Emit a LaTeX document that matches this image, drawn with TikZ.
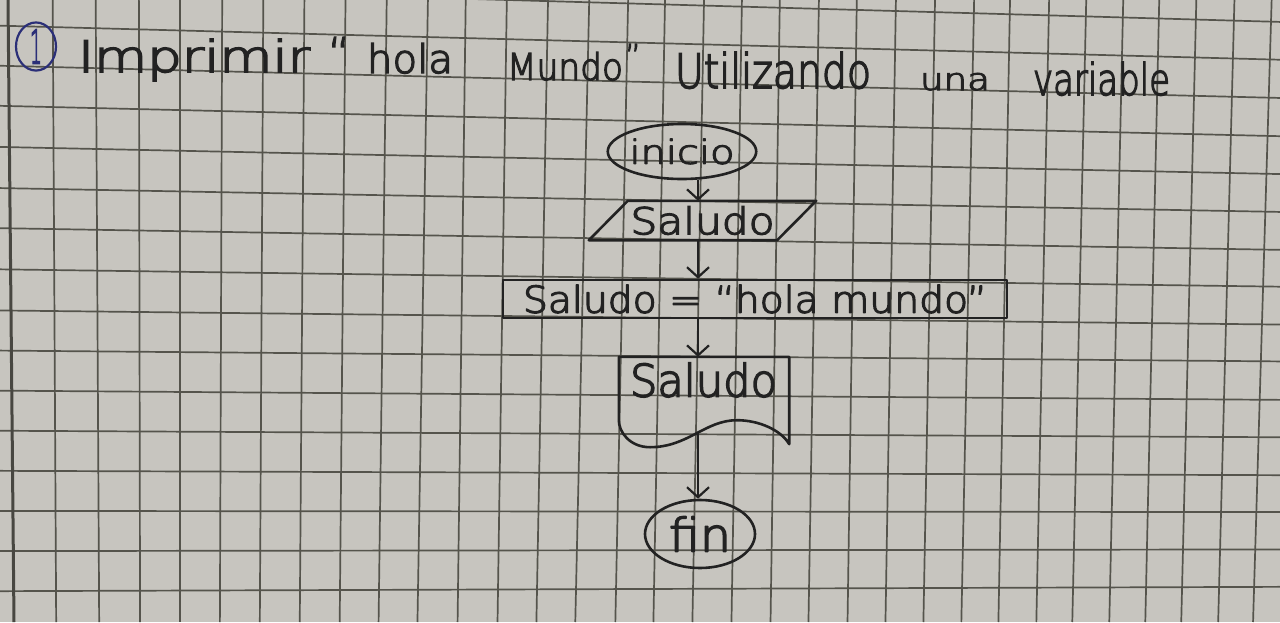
\documentclass[tikz,border=0pt]{standalone}
\usepackage{fontspec}
\newfontfamily\hand{DejaVuSans-ExtraLight.ttf}[FakeBold=3.5]
\usetikzlibrary{shapes.geometric,arrows.meta,calc}
\definecolor{paper}{HTML}{C7C5BF}
\definecolor{gridc}{HTML}{55544C}
\definecolor{ink}{HTML}{222222}
\definecolor{inkblue}{HTML}{2B2F78}
\newcommand\hw[3]{\resizebox{#1pt}{#2pt}{\hand #3}}
\newcommand\qm[2]{\resizebox{#1pt}{!}{\hand #2}}
\begin{document}
\begin{tikzpicture}[x=1pt,y=-1pt,
  gridline/.style={draw=gridc,line width=1.7pt},
  marginline/.style={draw=gridc!85!black,line width=3pt},
  shapeline/.style={draw=ink,line width=2.6pt,line join=round},
  txt/.style={inner sep=0pt,outer sep=0pt,text=ink},
  arr/.style={draw=ink,line width=2.2pt,-{Straight Barb[length=10pt,width=22pt]}},
  oval/.style={ellipse,shapeline,inner sep=0pt,text=ink},
  box/.style={rectangle,inner sep=0pt,text=ink}]
\useasboundingbox (0,0) rectangle (1280,622);
\fill[paper] (0,0) rectangle (1280,622);
% grid paper
\foreach \t/\b in {53/56,96/99,139/140,180/180,222/220,263/260,304/300,345/340,386/379,427/418,465/458,506/498,547/537,588/576,627/616,664/654,703/693,741/732,779/771,818/809,856/848,895/886,934/924,973/962,1009/999,1048/1037,1085/1073,1122/1110,1158/1146,1195/1182,1233/1219,1270/1254}{
  \draw[gridline] ($(\t,55)!-0.1028!(\b,590)$) -- ($(\t,55)!1.0598!(\b,590)$);
}
\foreach \l/\r in {-13/20.5,27/58.4,67/96.7,107/135,148/173,189/211,229/249,270/286,311/324,351/361,391/399.5,431/437,471/475,511/512,551/549.5,591/587}{
  \draw[gridline] ($(50,\l)!-0.0424!(1230,\r)$) -- ($(50,\l)!1.0424!(1230,\r)$);
}
\draw[marginline] (8,0) -- (14,622);

% title
\node[ellipse,draw=inkblue,line width=2.2pt,minimum width=40,minimum height=48,inner sep=0pt,text=inkblue] (num) at (36,46.5) {\hw{12}{34}{1}};
\node[txt,anchor=base west] (w1) at (78,72) {\hw{232}{33}{Imprimir}};
\node[txt,anchor=north west] (q1) at (328,37) {\qm{22}{“}};
\node[txt,anchor=base west] (w2) at (367,73) {\hw{86}{30}{hola}};
\node[txt,anchor=base west] (w3) at (507,80) {\hw{116}{28}{Mundo}};
\node[txt,anchor=north west] (q2) at (625,44) {\qm{16}{”}};
\node[txt,anchor=base west] (w4) at (675,88) {\hw{196}{36}{Utilizando}};
\node[txt,anchor=base west] (w5) at (920,90) {\hw{70}{17}{una}};
\node[txt,anchor=base west] (w6) at (1033,95) {\hw{137}{33}{variable}};

% flowchart
\coordinate (spine) at (698,0);
\node[oval,minimum width=146,minimum height=55] (inicio) at (682,151.5) {\hw{105}{25}{inicio}};
\node[box,minimum width=188,minimum height=39] (para) at (702.5,220.5) {\raisebox{-3pt}{\hw{144}{28}{Saludo}}};
\draw[shapeline] ($(para.north west)+(19.5,0)$) -- ($(para.north east)+(19.5,0)$) -- ($(para.south east)+(-19.5,0)$) -- ($(para.south west)+(-19.5,0)$) -- cycle;
\node[box,shapeline,minimum width=504,minimum height=38] (rect) at (755,299) {\hw{464}{28}{Saludo = “hola mundo”}};
\node[box,minimum width=170,minimum height=90] (doc) at (704,402) {};
\draw[shapeline] ($(doc.south west)+(0,-27)$) -- (doc.north west) -- (doc.north east) -- ($(doc.south east)+(0,-3)$)
  .. controls +(-8,-14) and +(22,0) .. ($(doc.south)+(33,-27)$)
  .. controls +(-32,0) and +(38,0) .. ($(doc.south)+(-54,0)$)
  .. controls +(-20,0) and +(0,12) .. ($(doc.south west)+(0,-27)$);
\node[txt] (doctext) at (703.5,380) {\hw{147}{34}{Saludo}};
\coordinate (docout) at ($(doc.south)+(-6,-14)$);
\node[oval,minimum width=110,minimum height=68] (fin) at (700,534) {\hw{62}{35}{fin}};

\draw[arr] (spine |- inicio.south) -- (spine |- para.north);
\draw[arr] (spine |- para.south) -- (spine |- rect.north);
\draw[arr] (spine |- rect.south) -- (spine |- doc.north);
\draw[arr] (docout) -- (spine |- fin.north);
\end{tikzpicture}
\end{document}
